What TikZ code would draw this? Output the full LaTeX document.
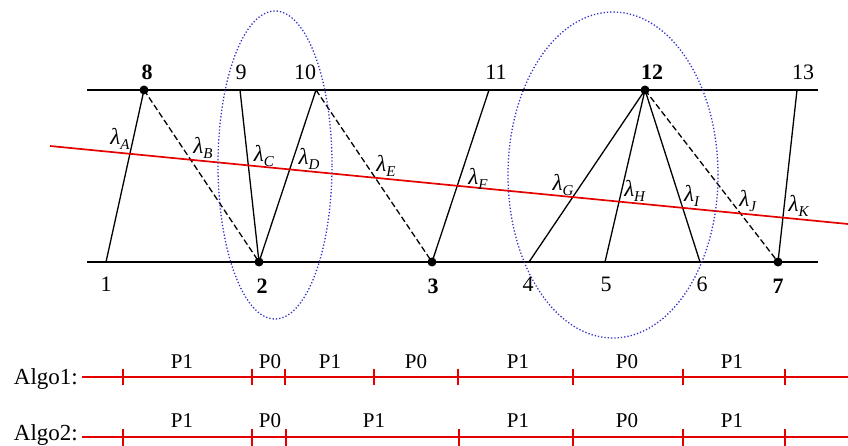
\documentclass[tikz,border=0pt]{standalone}
\usepackage{fontspec}
\setmainfont{Liberation Serif}
\usetikzlibrary{shapes.geometric}
\newcommand{\lam}[1]{\textit{λ}\raisebox{-0.4ex}{\fontsize{15}{16}\selectfont\textit{#1}}}
\begin{document}
\begin{tikzpicture}[x=1pt,y=-1pt,
  edge/.style={line width=1.3pt,black},
  dedge/.style={line width=1.3pt,black,dash pattern=on 6pt off 3pt},
  rail/.style={line width=1.3pt,black},
  cut/.style={line width=1.7pt,red!90!black},
  grp/.style={draw=blue!75!black!80!white,line width=1.3pt,dotted},
  dot/.style={circle,fill=black,inner sep=0pt,minimum size=9pt},
  num/.style={inner sep=0pt,anchor=base,font=\fontsize{22}{24}\selectfont},
  bnum/.style={num,font=\fontsize{22}{24}\selectfont\bfseries},
  lbl/.style={inner sep=0pt,font=\fontsize{23}{25}\selectfont},
  algo/.style={line width=1.7pt,red!90!black},
  tick/.style={line width=1.3pt,red!90!black},
  plab/.style={inner sep=0pt,anchor=base,font=\fontsize{21}{23}\selectfont},
  alab/.style={inner sep=0pt,anchor=base east,font=\fontsize{23}{25}\selectfont}]
\useasboundingbox (0,0) rectangle (848,446);
% rails
\coordinate (tl) at (87,90); \coordinate (tr) at (818,90);
\coordinate (bl) at (87,262); \coordinate (br) at (818,262);
\draw[rail] (tl) -- (tr);
\draw[rail] (bl) -- (br);
% vertices
\coordinate (t8) at (144,90); \coordinate (t9) at (240,90);
\coordinate (t10) at (316,90); \coordinate (t11) at (489,90);
\coordinate (t12) at (645,90); \coordinate (t13) at (797,90);
\coordinate (b1) at (106,262); \coordinate (b2) at (259,262);
\coordinate (b3) at (432,262); \coordinate (b4) at (529,262);
\coordinate (b5) at (605,262); \coordinate (b6) at (700,262);
\coordinate (b7) at (778,262);
% edges
\draw[edge] (b1) -- (t8);
\draw[dedge] (t8) -- (b2);
\draw[edge] (t9) -- (b2);
\draw[edge] (b2) -- (t10);
\draw[dedge] (t10) -- (b3);
\draw[edge] (b3) -- (t11);
\draw[edge] (b4) -- (t12);
\draw[edge] (b5) -- (t12);
\draw[edge] (t12) -- (b6);
\draw[dedge] (t12) -- (b7);
\draw[edge] (b7) -- (t13);
% dots
\foreach \p in {t8,t12,b2,b3,b7} \node[dot] (d\p) at (\p) {};
% cut line
\coordinate (c1) at (50,146); \coordinate (c2) at (848,224);
\draw[cut] (c1) -- (c2);
% ellipses
\node[grp,ellipse,minimum width=114pt,minimum height=308pt,inner sep=0pt] (e1) at (275,165) {};
\node[grp,ellipse,minimum width=210pt,minimum height=326pt,inner sep=0pt] (e2) at (613,175) {};
% vertex labels
\node[bnum] (l8) at (147,80) {8};
\node[num] (l9) at (241,80) {9};
\node[num] (l10) at (305,80) {10};
\node[num] (l11) at (496,80) {11};
\node[bnum] (l12) at (652,80) {12};
\node[num] (l13) at (803,80) {13};
\node[num] (l1) at (106,291) {1};
\node[bnum] (l2) at (262,293) {2};
\node[bnum] (l3) at (433,293) {3};
\node[num] (l4) at (528,291) {4};
\node[num] (l5) at (606,291) {5};
\node[num] (l6) at (702,291) {6};
\node[bnum] (l7) at (778,293) {7};
% lambda labels
\node[lbl] (lA) at (120,139) {\lam{A}};
\node[lbl] (lB) at (203,148) {\lam{B}};
\node[lbl] (lC) at (264,156) {\lam{C}};
\node[lbl] (lD) at (309,159) {\lam{D}};
\node[lbl] (lE) at (386,166) {\lam{E}};
\node[lbl] (lF) at (478,179) {\lam{F}};
\node[lbl] (lG) at (563,185) {\lam{G}};
\node[lbl] (lH) at (635,191) {\lam{H}};
\node[lbl] (lI) at (692,196) {\lam{I}};
\node[lbl] (lJ) at (748,201) {\lam{J}};
\node[lbl] (lK) at (799,206) {\lam{K}};
% Algo1
\node[alab] (a1) at (78,384) {Algo1:};
\coordinate (a1s) at (82,377); \coordinate (a1e) at (848,377);
\draw[algo] (a1s) -- (a1e);
\foreach \x in {123,252,285,374,458,573,683,785}
  \draw[tick] (\x,369) -- (\x,385);
\node[plab] at (182,368) {P1};
\node[plab] at (270,368) {P0};
\node[plab] at (330,368) {P1};
\node[plab] at (416,368) {P0};
\node[plab] at (518,368) {P1};
\node[plab] at (627,368) {P0};
\node[plab] at (732,368) {P1};
% Algo2
\node[alab] (a2) at (78,440) {Algo2:};
\coordinate (a2s) at (82,437); \coordinate (a2e) at (848,437);
\draw[algo] (a2s) -- (a2e);
\foreach \x in {123,252,286,459,573,683,785}
  \draw[tick] (\x,429) -- (\x,446);
\node[plab] at (182,427) {P1};
\node[plab] at (270,427) {P0};
\node[plab] at (374,427) {P1};
\node[plab] at (518,427) {P1};
\node[plab] at (627,427) {P0};
\node[plab] at (732,427) {P1};
\end{tikzpicture}
\end{document}
